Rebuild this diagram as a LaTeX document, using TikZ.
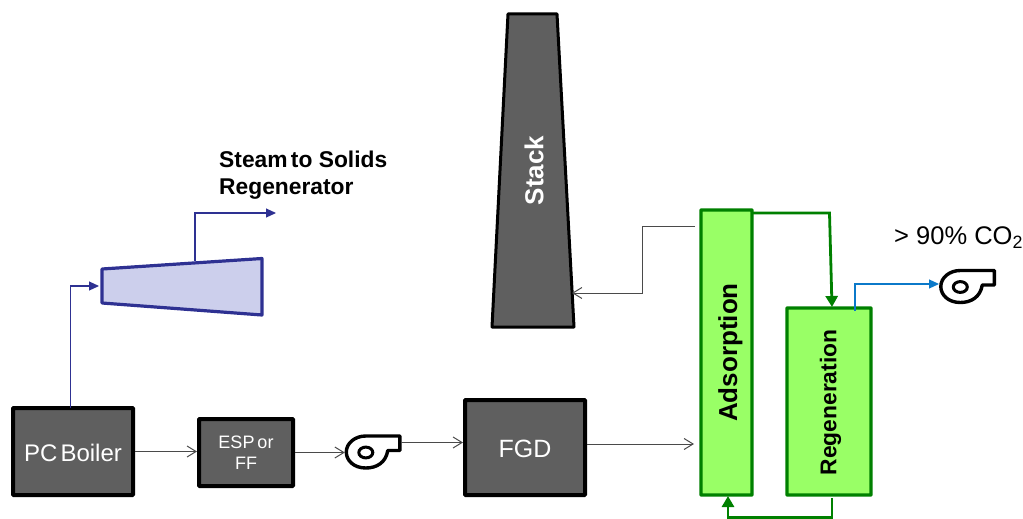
\documentclass[tikz,border=0pt]{standalone}
\usepackage{fontspec}
\setmainfont{Liberation Sans}
\usetikzlibrary{arrows.meta}
\definecolor{boxgray}{HTML}{5F5F5F}
\definecolor{flowgray}{HTML}{4A4A4A}
\definecolor{navyblue}{HTML}{2E3192}
\definecolor{turbfill}{HTML}{CCCFEC}
\definecolor{limefill}{HTML}{99FF66}
\definecolor{darkgreen}{HTML}{008000}
\definecolor{co2blue}{HTML}{0B79C9}
\tikzset{
  x=1pt,y=-1pt,
  graybox/.style={draw=black,line width=4pt,fill=boxgray,text=white,align=center,inner sep=0pt,rounded corners=0.6pt,minimum width=#1},
  greenbox/.style={draw=darkgreen,line width=3.4pt,fill=limefill,inner sep=0pt,rounded corners=0.6pt},
  fanbox/.style={inner sep=0pt,minimum width=56pt,minimum height=35pt},
  flow/.style={draw=flowgray,line width=1pt,-{Straight Barb[length=9pt,width=11pt,line width=1pt]}},
  steam/.style={draw=navyblue,line width=1.1pt,-{Triangle[length=10pt,width=9pt]}},
  solids/.style={draw=darkgreen,line width=2.8pt,-{Triangle[length=11pt,width=12pt]}},
  co2/.style={draw=co2blue,line width=1.2pt,-{Triangle[length=10pt,width=9pt]}},
  fanline/.style={draw=black,line width=3.4pt,line join=round},
  lbl/.style={inner sep=0pt,align=left}
}
\newcommand{\fanshape}[1]{%
  \draw[fanline] ([shift={(1.5,0.5)}]#1.west) arc[start angle=180,end angle=90,x radius=19.5,y radius=-16]
     -- ([shift={(55,-15.5)}]#1.west) -- ([shift={(55,-1)}]#1.west) -- ([shift={(43,-1)}]#1.west)
     .. controls ([shift={(41,11)}]#1.west) and ([shift={(32,16.5)}]#1.west) .. ([shift={(21,16.5)}]#1.west)
     .. controls ([shift={(9,16.5)}]#1.west) and ([shift={(1.5,9)}]#1.west) .. ([shift={(1.5,0.5)}]#1.west);
  \draw[draw=black,line width=3pt] ([shift={(21,1)}]#1.west) ellipse[x radius=7,y radius=5.4];
}
\begin{document}
\begin{tikzpicture}
\useasboundingbox (0,0) rectangle (1023,519);

% Stack
\draw[draw=black,line width=3pt,fill=boxgray,rounded corners=0.5pt] (508,14) -- (557,14) -- (574,327) -- (492,327) -- cycle;
\node[rotate=90,text=white,font=\bfseries\fontsize{26}{30}\selectfont,inner sep=0pt] (stack) at (534,170.5) {Stack};
\coordinate (stackin) at (572,293);

% Turbine
\draw[draw=navyblue,line width=3.2pt,fill=turbfill,line join=round] (102,269) -- (262,258.5) -- (262,315) -- (102,303) -- cycle;
\coordinate (turbin) at (99,286);
\coordinate (turbout) at (195,261);
\coordinate (steamend) at (276,213);

% Boxes
\node[graybox=120pt,minimum height=87pt] (boiler) at (73,451.5) {};
\node[text=white,inner sep=0pt,font=\fontsize{24}{28}\selectfont] (boilertxt) at (73,452.5) {PC\kern-3.5pt\ Boiler};
\node[graybox=94pt,minimum height=67pt,font=\fontsize{18}{21}\selectfont] (esp) at (246,452.5) {ESP\kern-2pt\ or\\FF};
\node[graybox=120pt,minimum height=95pt] (fgd) at (525,447.5) {};
\node[text=white,inner sep=0pt,font=\fontsize{25}{29}\selectfont] (fgdtxt) at (525,449) {FGD};
\node[greenbox,minimum width=51pt,minimum height=285pt] (ads) at (726.5,352.5) {};
\node[greenbox,minimum width=84pt,minimum height=187pt] (reg) at (829,401.5) {};
\node[rotate=90,font=\bfseries\fontsize{26}{30}\selectfont,inner sep=0pt] (adstxt) at (730.5,352.5) {Adsorption};
\node[rotate=90,font=\bfseries\fontsize{22.8}{26}\selectfont,inner sep=0pt] (regtxt) at (830.5,402.5) {Regeneration};

% Fans
\node[fanbox] (fanone) at (373,451.5) {};
\node[fanbox] (fantwo) at (967.5,286) {};
\fanshape{fanone}
\fanshape{fantwo}

% Labels
\node[lbl,anchor=west,font=\bfseries\fontsize{22.8}{27}\selectfont] (steamlbl) at (219,175.5) {Steam\kern-3pt\ to Solids\\Regenerator};
\node[lbl,anchor=west,font=\fontsize{25.5}{29}\selectfont] (co2lbl) at (894,238) {> 90\% CO\textsubscript{2}};

% Coordinates for free ends
\coordinate (fgdin) at (694,444);
\coordinate (adsout) at (695,226);
\coordinate (solidtop) at (752,213);
\coordinate (regtop) at (832,307);
\coordinate (regbot) at (832,498);
\coordinate (adsbot) at (728,496);
\coordinate (regout) at (855,311);

% Connectors
\draw[flow] (boiler.east) -- (esp.west |- boiler.east);
\draw[flow] (esp.east) -- (fanone.west |- esp.east);
\draw[flow] (401,442.5) -- (fgd.west |- 401,442.5);
\draw[flow] (fgd.east |- fgdin) -- (fgdin);
\draw[flow] (adsout) -- (642,226) -- (642,293) -- (stackin);
\draw[steam] (70.5,408) -- (70.5,286) -- (turbin);
\draw[steam] (turbout) -- (195,213) -- (steamend);
\draw[solids] (solidtop) -- (829.5,213) -- (regtop);
\draw[solids] (regbot) -- (832,517.5) -- (728,517.5) -- (adsbot);
\draw[co2] (regout) -- (855,284) -- (939,284);
\end{tikzpicture}
\end{document}
